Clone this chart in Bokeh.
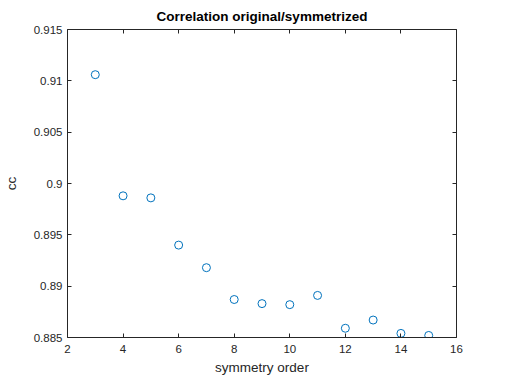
from bokeh.plotting import figure
from bokeh.models import LinearAxis, FixedTicker, CustomJSTickFormatter, Range1d
from bokeh.embed import file_html
from bokeh.resources import INLINE

order = [3, 4, 5, 6, 7, 8, 9, 10, 11, 12, 13, 14, 15]
cc = [0.9106, 0.8988, 0.8986, 0.8940, 0.8918, 0.8887, 0.8883, 0.8882, 0.8891,
      0.8859, 0.8867, 0.8854, 0.8852]
x_ticks = [2, 4, 6, 8, 10, 12, 14, 16]
y_ticks = [0.885, 0.89, 0.895, 0.9, 0.905, 0.91, 0.915]

FONT = "Liberation Sans"
AX = "#262626"

p = figure(width=497, height=379, output_backend="svg", toolbar_location=None,
           x_range=Range1d(2, 16), y_range=Range1d(0.885, 0.915),
           min_border_left=66, min_border_right=41, min_border_top=29, min_border_bottom=42,
           title="Correlation original/symmetrized")
p.title.align = "center"
p.title.text_font = FONT
p.title.text_font_size = "13.5px"
p.title.text_font_style = "bold"
p.title.text_color = "#000000"
p.title.offset = 0
p.title.standoff = 12
p.outline_line_color = None
p.xgrid.visible = False
p.ygrid.visible = False
p.background_fill_color = "white"
p.border_fill_color = "white"

fmt = CustomJSTickFormatter(code="return parseFloat(tick.toFixed(3)).toString();")
blank = CustomJSTickFormatter(code="return '';")

def style(ax, ticks, labels=True):
    ax.ticker = FixedTicker(ticks=ticks)
    ax.major_tick_in = 4
    ax.major_tick_out = 0
    ax.minor_tick_in = 0
    ax.minor_tick_out = 0
    ax.axis_line_color = AX
    ax.major_tick_line_color = AX
    ax.axis_line_width = 1
    ax.major_label_text_font = FONT
    ax.major_label_text_font_size = "11.5px"
    ax.major_label_text_color = AX
    ax.axis_label_text_font = FONT
    ax.axis_label_text_font_size = "13.5px"
    ax.axis_label_text_font_style = "normal"
    ax.axis_label_text_color = AX
    if not labels:
        ax.formatter = blank
        ax.major_label_standoff = 0

xa = p.xaxis[0]
style(xa, x_ticks)
xa.axis_label = "symmetry order"
xa.major_label_standoff = 7
xa.axis_label_standoff = 4

ya = p.yaxis[0]
style(ya, y_ticks)
ya.formatter = fmt
ya.axis_label = "cc"
ya.major_label_standoff = 5
ya.axis_label_standoff = 12

top = LinearAxis()
style(top, x_ticks, labels=False)
p.add_layout(top, "above")
right = LinearAxis()
style(right, y_ticks, labels=False)
p.add_layout(right, "right")

p.scatter(order, cc, marker="circle", size=8, fill_color=None,
          line_color="#0072BD", line_width=1)

open("out.html", "w").write(file_html(p, INLINE))
